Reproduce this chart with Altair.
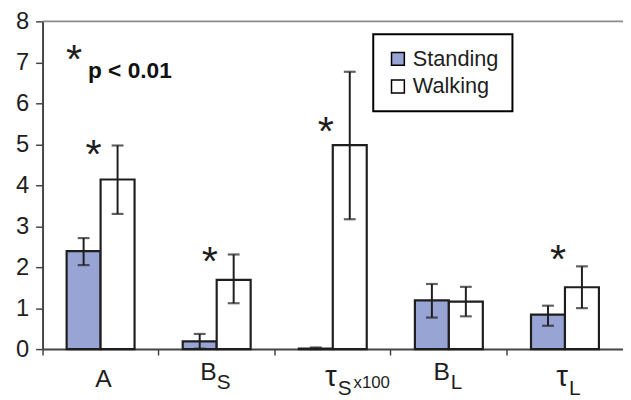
import altair as alt
import pandas as pd

categories = ["A", "BS", "tS", "BL", "tL"]
series = ["Standing", "Walking"]
standing_mean = [2.39, 0.19, 0.01, 1.19, 0.84]
standing_lo = [2.05, 0.01, 0.0, 0.77, 0.57]
standing_hi = [2.71, 0.37, 0.04, 1.59, 1.06]
walking_mean = [4.14, 1.69, 4.98, 1.16, 1.51]
walking_lo = [3.30, 1.12, 3.17, 0.80, 1.00]
walking_hi = [4.97, 2.31, 6.77, 1.52, 2.02]
star_cats = ["A", "BS", "tS", "tL"]
star_y = [4.85, 2.24, 5.42, 2.29]

label_main = ["A", "B", "\u03c4", "B", "\u03c4"]
label_main_size = [25, 25, 30, 25, 30]
label_main_y = [370, 363, 369, 363, 369]
label_main_dx = [3, 0, 4, 1, 3]
label_main_align = ["center", "right", "right", "right", "right"]
label_sub = ["", "S", "S", "L", "L"]
label_sub_y = [0, 372, 378, 372, 378]
label_sub_dx = [0, 0, 5, 2, 4]

FONT = "Liberation Sans"
INK = "#1E1E1E"

rows = []
for i, c in enumerate(categories):
    rows.append(dict(cat=c, series="Standing", mean=standing_mean[i], lo=standing_lo[i], hi=standing_hi[i]))
    rows.append(dict(cat=c, series="Walking", mean=walking_mean[i], lo=walking_lo[i], hi=walking_hi[i]))
df = pd.DataFrame(rows)

stars = pd.DataFrame(dict(cat=star_cats, y=star_y))

xscale = alt.Scale(domain=categories, paddingInner=0, paddingOuter=0)
xoff_scale = alt.Scale(domain=series, paddingInner=0, paddingOuter=0.709)
yscale = alt.Scale(domain=[0, 8], nice=False)

x_plain = alt.X("cat:N", scale=xscale, sort=categories)
x_enc = alt.X("cat:N", scale=xscale, sort=categories,
              axis=alt.Axis(labels=False, title=None, ticks=True, tickSize=6, tickWidth=1.5,
                            tickColor="#444444", bandPosition=0, domainWidth=2,
                            domainColor="#444444", grid=False))
xo_enc = alt.XOffset("series:N", scale=xoff_scale, sort=series)

bars = alt.Chart(df).mark_bar(stroke=INK, strokeWidth=2.2).encode(
    x=x_enc,
    xOffset=xo_enc,
    y=alt.Y("mean:Q", scale=yscale,
            axis=alt.Axis(values=list(range(9)), grid=False, tickSize=7, tickWidth=1.5,
                          tickColor="#444444", domainWidth=2, domainColor="#444444",
                          labelFontSize=24, labelPadding=7, labelColor=INK, labelFont=FONT,
                          title=None)),
    fill=alt.Fill("series:N", sort=series,
                  scale=alt.Scale(domain=series, range=["#98A4D3", "#FFFFFF"]),
                  legend=alt.Legend(title=None, orient="none", legendX=335, legendY=13)),
)

err = alt.Chart(df).mark_rule(color=INK, strokeWidth=2).encode(
    x=x_plain, xOffset=xo_enc,
    y=alt.Y("lo:Q", scale=yscale), y2="hi:Q",
)
cap_lo = alt.Chart(df).mark_tick(color=INK, thickness=2.2, size=12, orient="horizontal").encode(
    x=x_plain, xOffset=xo_enc, y=alt.Y("lo:Q", scale=yscale),
)
cap_hi = alt.Chart(df).mark_tick(color=INK, thickness=2.2, size=12, orient="horizontal").encode(
    x=x_plain, xOffset=xo_enc, y=alt.Y("hi:Q", scale=yscale),
)

star_marks = alt.Chart(stars).mark_text(text="*", font=FONT, fontSize=42, color=INK,
                                        dx=-7, dy=18, baseline="alphabetic").encode(
    x=x_plain, y=alt.Y("y:Q", scale=yscale),
)

label_layers = []
for i, c in enumerate(categories):
    one = pd.DataFrame(dict(cat=[c], main=[label_main[i]], sub=[label_sub[i]]))
    label_layers.append(alt.Chart(one).mark_text(
        font=FONT, fontSize=label_main_size[i], color=INK, align=label_main_align[i],
        baseline="alphabetic", dx=label_main_dx[i]).encode(
        x=x_plain, y=alt.value(label_main_y[i]), text="main:N"))
    if label_sub[i]:
        label_layers.append(alt.Chart(one).mark_text(
            font=FONT, fontSize=21, color=INK, align="left", baseline="alphabetic",
            dx=label_sub_dx[i]).encode(
            x=x_plain, y=alt.value(label_sub_y[i]), text="sub:N"))

x100 = alt.Chart(pd.DataFrame(dict(cat=["tS"], t=["x100"]))).mark_text(
    font=FONT, fontSize=17, color=INK, align="left", baseline="alphabetic", dx=21).encode(
    x=x_plain, y=alt.value(371), text="t:N",
)

top_rule = alt.Chart(pd.DataFrame(dict(a=[0]))).mark_rule(color="#8C8C8C", strokeWidth=2).encode(
    x=alt.value(0), x2=alt.value(588), y=alt.value(0))

p_star = alt.Chart(pd.DataFrame(dict(t=["*"]))).mark_text(
    font=FONT, fontSize=42, color=INK, align="center", baseline="alphabetic").encode(
    x=alt.value(32), y=alt.value(34 + 18), text="t:N")
p_text = alt.Chart(pd.DataFrame(dict(t=["p < 0.01"]))).mark_text(
    font=FONT, fontSize=23, fontWeight="bold", color="#111111", align="left", baseline="alphabetic").encode(
    x=alt.value(46), y=alt.value(57), text="t:N")

chart = alt.layer(top_rule, bars, err, cap_lo, cap_hi, star_marks, *label_layers, x100,
                  p_star, p_text).properties(
    width=588, height=332,
    padding={"left": 35, "top": 11, "right": 0, "bottom": 48},
    autosize="none",
).configure_view(stroke=None).configure_legend(
    padding=14, labelFontSize=22, labelFont=FONT, labelColor=INK, symbolType="square",
    symbolSize=169, symbolStrokeColor="black", symbolStrokeWidth=1.5, rowPadding=6,
    labelOffset=4, strokeColor="black", strokeWidth=2,
)

chart.save("out.html", embed_options={"renderer": "svg", "actions": False})
